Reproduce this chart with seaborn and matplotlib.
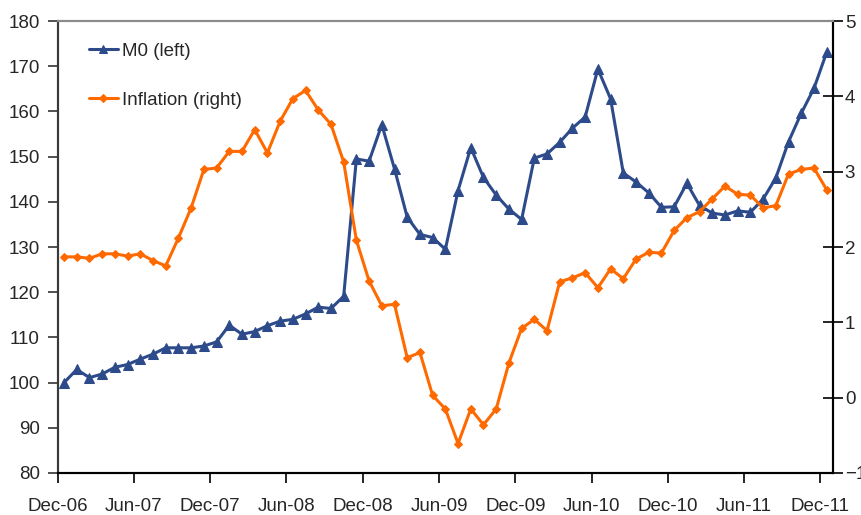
import numpy as np
import pandas as pd
import matplotlib
matplotlib.use("Agg")
import matplotlib.pyplot as plt
import seaborn as sns

# Monthly observations, Dec-06 through Dec-11
m0 = [100.0, 102.9, 101.1, 101.9, 103.4, 104.0, 105.2, 106.3, 107.7, 107.7,
      107.7, 108.1, 109.0, 112.7, 110.7, 111.3, 112.6, 113.6, 114.0, 115.2,
      116.7, 116.4, 119.1, 149.5, 149.0, 157.1, 147.3, 136.6, 132.8, 132.1,
      129.5, 142.5, 152.0, 145.4, 141.5, 138.4, 136.1, 149.7, 150.6, 153.2,
      156.3, 158.8, 169.4, 162.8, 146.4, 144.4, 142.0, 138.8, 138.9, 144.1,
      139.2, 137.5, 137.1, 138.0, 137.7, 140.6, 145.3, 153.3, 159.6, 165.1,
      173.1]
inflation = [1.87, 1.87, 1.85, 1.91, 1.91, 1.88, 1.91, 1.82, 1.75, 2.12,
             2.52, 3.03, 3.05, 3.27, 3.27, 3.56, 3.25, 3.67, 3.97, 4.08,
             3.82, 3.63, 3.13, 2.09, 1.55, 1.22, 1.24, 0.53, 0.60, 0.03,
             -0.15, -0.61, -0.15, -0.36, -0.15, 0.46, 0.92, 1.04, 0.89, 1.54,
             1.59, 1.66, 1.46, 1.71, 1.58, 1.84, 1.93, 1.92, 2.22, 2.39,
             2.47, 2.64, 2.81, 2.70, 2.69, 2.52, 2.55, 2.97, 3.03, 3.05,
             2.76]
tick_labels = ["Dec-06", "Jun-07", "Dec-07", "Jun-08", "Dec-08", "Jun-09",
               "Dec-09", "Jun-10", "Dec-10", "Jun-11", "Dec-11"]

sns.set_style("white")
plt.rcParams["font.family"] = ["Liberation Sans", "DejaVu Sans"]

navy = "#2D4B8A"
orange = "#FF6A00"

df = pd.DataFrame({
    "month": np.arange(len(m0)) + 0.5,   # points sit between category ticks
    "m0": m0,
    "inflation": inflation,
})

fig = plt.figure(figsize=(8.61, 5.15), dpi=100)
ax = fig.add_axes([0.067, 0.0816, 0.9005, 0.8774])
ax2 = ax.twinx()

sns.lineplot(data=df, x="month", y="m0", ax=ax, color=navy, linewidth=2.2,
             marker="^", markersize=6.5, markeredgecolor=navy,
             label="M0 (left)", legend=False)
sns.lineplot(data=df, x="month", y="inflation", ax=ax2, color=orange,
             linewidth=2.2, marker="D", markersize=4.2,
             markeredgecolor=orange, label="Inflation (right)", legend=False)

ax.set_xlim(0, len(m0))
ax.set_ylim(80, 180)
ax.set_yticks(np.arange(80, 181, 10))
ax2.set_ylim(-1, 5)
ax2.set_yticks(np.arange(-1, 6, 1))
ax.set_xticks(np.arange(0, len(m0), 6))
ax.set_xticklabels(tick_labels)
ax.set_xlabel("")
ax.set_ylabel("")
ax2.set_ylabel("")

fs = 13.5
ax.tick_params(axis="x", direction="out", length=7, width=1.2, color="black",
               pad=11, labelsize=fs, bottom=True)
ax.tick_params(axis="y", direction="out", length=7, width=1.2, color="#333333",
               pad=6, labelsize=fs, left=True)
ax2.tick_params(axis="y", direction="inout", length=15, width=1.2,
                color="black", pad=1, labelsize=fs, right=True)

for a in (ax, ax2):
    a.spines["top"].set_color("#8a8a8a")
    a.spines["top"].set_linewidth(1.5)
    a.spines["bottom"].set_color("black")
    a.spines["bottom"].set_linewidth(1.5)
    a.spines["left"].set_color("#3a3a3a")
    a.spines["left"].set_linewidth(1.5)
    a.spines["right"].set_color("black")
    a.spines["right"].set_linewidth(1.5)
ax.grid(False)
ax2.grid(False)

h1, l1 = ax.get_legend_handles_labels()
h2, l2 = ax2.get_legend_handles_labels()
ax2.legend(h1 + h2, l1 + l2, loc="upper left", bbox_to_anchor=(0.04, 0.952),
           frameon=False, fontsize=fs, handlelength=1.55, handletextpad=0.25,
           labelspacing=1.7, borderpad=0, borderaxespad=0, markerscale=0.9)

fig.savefig("out.png", dpi=100)
